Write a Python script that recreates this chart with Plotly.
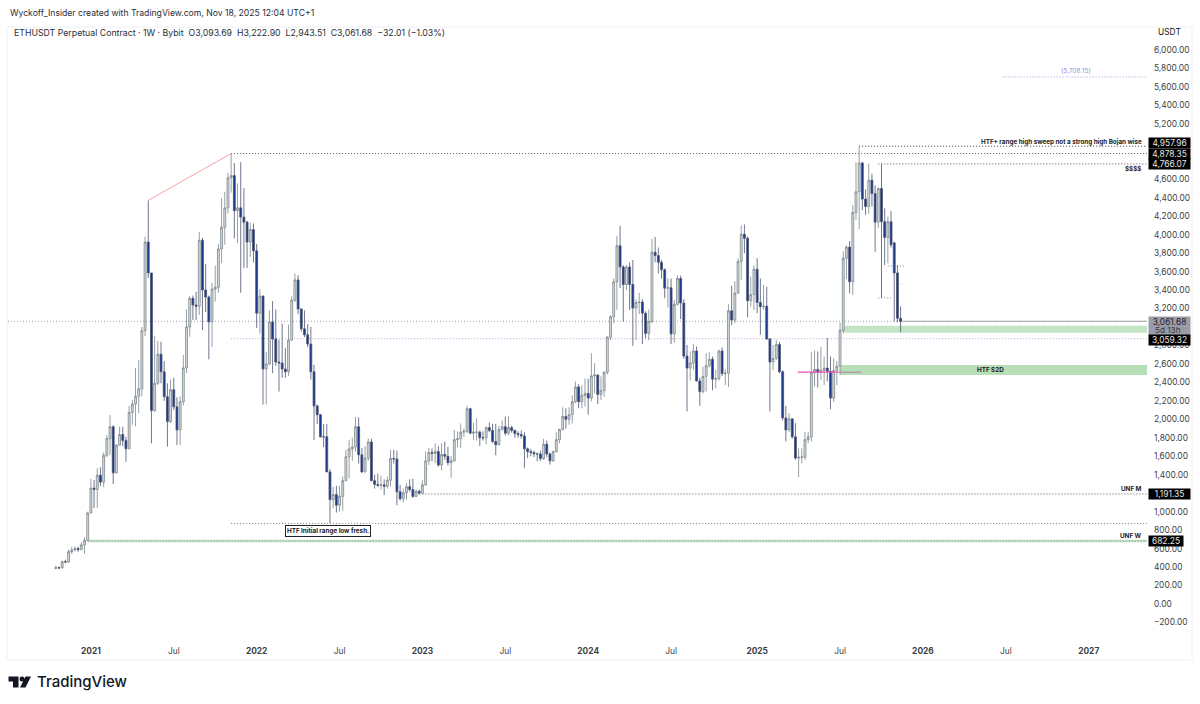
import pandas as pd
import plotly.graph_objects as go

# weekly candles
opens = [385, 393, 390, 458, 455, 566, 585, 600, 590, 640,
         690, 985, 1255, 1240, 1395, 1320, 1610, 1790, 1920, 1420,
         1720, 1835, 1770, 1680, 2075, 2165, 2250, 2330, 2960, 3920,
         3585, 2095, 2390, 2705, 2515, 2245, 1975, 2320, 2135, 1885,
         2190, 2556, 3000, 3310, 3238, 3225, 3940, 3400, 3325, 3055,
         3410, 3430, 3845, 4080, 4290, 4615, 4640, 4260, 4290, 4190,
         4135, 3920, 4055, 3825, 3150, 3335, 2545, 2600, 3055, 2870,
         2620, 2610, 2545, 2515, 2860, 3290, 3510, 3195, 2980, 2915,
         2815, 2515, 2145, 2050, 1810, 1810, 1430, 1130, 1185, 1070,
         1165, 1335, 1595, 1680, 1700, 1920, 1615, 1430, 1580, 1755,
         1335, 1295, 1285, 1290, 1275, 1340, 1575, 1570, 1215, 1140,
         1205, 1270, 1240, 1165, 1220, 1200, 1290, 1550, 1640, 1630,
         1650, 1505, 1620, 1600, 1530, 1550, 1780, 1790, 1860, 1870,
         2115, 1850, 1860, 1860, 1800, 1800, 1910, 1880, 1760, 1725,
         1890, 1920, 1850, 1910, 1880, 1845, 1835, 1820, 1680, 1650,
         1640, 1625, 1625, 1575, 1730, 1625, 1550, 1650, 1780, 1890,
         2030, 2000, 2050, 2190, 2350, 2190, 2260, 2280, 2230, 2470,
         2480, 2270, 2310, 2510, 2890, 3110, 3490, 3880, 3650, 3460,
         3650, 3460, 3205, 3265, 3270, 3150, 2930, 3060, 3810, 3775,
         3700, 3620, 3420, 3425, 2925, 3245, 3525, 3260, 2685, 2555,
         2610, 2740, 2415, 2300, 2465, 2580, 2650, 2435, 2440, 2740,
         2495, 2500, 3175, 3075, 3365, 3710, 4005, 3960, 3285, 3350,
         3625, 3265, 3220, 3225, 2870, 2620, 2660, 2810, 2515, 2015,
         1885, 2005, 1810, 1580, 1590, 1590, 1780, 1810, 2505, 2540,
         2510, 2530, 2555, 2520, 2230, 2530, 2575, 2965, 3745, 3865,
         3490, 4240, 4465, 4775, 4385, 4305, 4590, 4445, 4135, 4500,
         4140, 3970, 4140, 3910, 3585, 3093.69]
highs = [415, 405, 470, 480, 590, 620, 625, 620, 670, 720,
         1000, 1355, 1343, 1470, 1480, 1640, 1830, 2047, 1935, 1730,
         1920, 1920, 1810, 2145, 2210, 2556, 2640, 3000, 3978, 4372,
         3585, 2905, 2850, 2840, 2630, 2390, 2430, 2450, 2240, 2250,
         2697, 3190, 3335, 3340, 3380, 4030, 3965, 3680, 3340, 3480,
         3665, 3900, 4395, 4465, 4670, 4878, 4775, 4555, 4785, 4505,
         4150, 4130, 4120, 3900, 3410, 3340, 2730, 3180, 3280, 3190,
         2860, 3035, 2770, 3025, 3330, 3580, 3560, 3200, 3180, 3030,
         3000, 2590, 2160, 2060, 1950, 1950, 1460, 1267, 1280, 1280,
         1380, 1670, 1775, 1800, 2025, 2020, 1690, 1710, 1790, 1790,
         1400, 1410, 1390, 1350, 1380, 1670, 1670, 1660, 1290, 1250,
         1310, 1350, 1355, 1240, 1240, 1340, 1650, 1690, 1685, 1740,
         1710, 1740, 1760, 1700, 1600, 1885, 1870, 1955, 1900, 2145,
         2125, 1960, 2010, 1880, 1870, 1925, 1965, 1950, 1950, 1930,
         1985, 2030, 2030, 1930, 1890, 1870, 1880, 1860, 1695, 1680,
         1660, 1640, 1660, 1790, 1770, 1640, 1660, 1860, 1900, 2130,
         2120, 2130, 2260, 2410, 2380, 2370, 2440, 2440, 2715, 2607,
         2485, 2465, 2520, 2900, 3130, 3525, 3985, 4095, 3670, 3670,
         3700, 3725, 3300, 3370, 3300, 3170, 3190, 3955, 3975, 3860,
         3725, 3635, 3525, 3525, 3290, 3560, 3555, 3300, 2805, 2730,
         2815, 2790, 2450, 2570, 2715, 2725, 2680, 2535, 2755, 2780,
         2540, 3245, 3445, 3495, 3745, 4100, 4110, 3980, 3545, 3670,
         3745, 3525, 3455, 3435, 2880, 2805, 2860, 2840, 2530, 2145,
         2065, 2010, 1957, 1685, 1685, 1865, 1865, 2730, 2745, 2735,
         2785, 2680, 2880, 2680, 2660, 2630, 3045, 3820, 3885, 3930,
         4320, 4785, 4957.96, 4790, 4490, 4770, 4660, 4535, 4510, 4766.07,
         4285, 4195, 4255, 3925, 3670, 3222.90]
lows = [375, 380, 385, 440, 445, 540, 570, 565, 580, 545,
        680, 985, 1040, 1040, 1280, 1265, 1590, 1610, 1300, 1415,
        1720, 1710, 1540, 1680, 1940, 1925, 2065, 2250, 2900, 3530,
        1740, 2080, 2370, 2390, 2200, 1705, 1960, 2100, 1720, 1720,
        2150, 2500, 2895, 3075, 3075, 3130, 2965, 3160, 2650, 2785,
        3275, 3370, 3690, 3890, 4230, 4455, 3960, 3910, 3370, 3640,
        3640, 3760, 3700, 2990, 2930, 2160, 2160, 2590, 2500, 2580,
        2300, 2450, 2450, 2470, 2850, 3270, 3140, 2950, 2890, 2780,
        2430, 1776, 1950, 1800, 1700, 1430, 877, 1040, 990, 1000,
        1010, 1330, 1360, 1550, 1650, 1520, 1420, 1430, 1550, 1330,
        1250, 1265, 1240, 1180, 1250, 1270, 1520, 1070, 1120, 1100,
        1130, 1215, 1150, 1170, 1180, 1190, 1280, 1505, 1545, 1525,
        1487, 1450, 1560, 1500, 1365, 1540, 1700, 1690, 1810, 1850,
        1840, 1775, 1770, 1710, 1770, 1730, 1860, 1740, 1610, 1720,
        1880, 1825, 1830, 1855, 1800, 1800, 1790, 1470, 1580, 1600,
        1590, 1545, 1550, 1560, 1590, 1510, 1540, 1640, 1740, 1880,
        1900, 1940, 1955, 2175, 2120, 2120, 2140, 2050, 2195, 2281,
        2165, 2210, 2245, 2485, 2860, 3040, 3185, 3420, 3060, 3400,
        3185, 2795, 2860, 3140, 2815, 2880, 2855, 3040, 3700, 3580,
        3525, 3310, 3210, 2815, 2830, 3235, 3085, 2655, 2085, 2420,
        2535, 2410, 2145, 2280, 2300, 2560, 2315, 2335, 2420, 2470,
        2370, 2350, 3020, 3040, 3365, 3510, 3800, 3105, 3220, 3185,
        3150, 2915, 3185, 2860, 2085, 2535, 2640, 2500, 1990, 1760,
        1865, 1790, 1560, 1375, 1525, 1560, 1740, 1760, 2355, 2345,
        2425, 2370, 2410, 2110, 2190, 2370, 2480, 2930, 3520, 3365,
        3345, 4160, 4060, 4265, 4215, 4230, 4305, 3815, 4070, 3315,
        3670, 3690, 3860, 3060, 3050, 2943.51]
closes = [393, 390, 458, 455, 566, 585, 600, 590, 640, 690,
          985, 1255, 1240, 1395, 1320, 1610, 1790, 1920, 1420, 1720,
          1835, 1770, 1680, 2075, 2165, 2250, 2330, 2960, 3920, 3585,
          2095, 2390, 2705, 2515, 2245, 1975, 2320, 2135, 1885, 2190,
          2556, 3000, 3310, 3238, 3225, 3940, 3400, 3325, 3055, 3410,
          3430, 3845, 4080, 4290, 4615, 4640, 4260, 4290, 4190, 4135,
          3920, 4055, 3825, 3150, 3335, 2545, 2600, 3055, 2870, 2620,
          2610, 2545, 2515, 2860, 3290, 3510, 3195, 2980, 2915, 2815,
          2515, 2145, 2050, 1810, 1810, 1430, 1130, 1185, 1070, 1165,
          1335, 1595, 1680, 1700, 1920, 1615, 1430, 1580, 1755, 1335,
          1295, 1285, 1290, 1275, 1340, 1575, 1570, 1215, 1140, 1205,
          1270, 1240, 1165, 1220, 1200, 1290, 1550, 1640, 1630, 1650,
          1505, 1620, 1600, 1530, 1550, 1780, 1790, 1860, 1870, 2115,
          1850, 1860, 1860, 1800, 1800, 1910, 1880, 1760, 1725, 1890,
          1920, 1850, 1910, 1880, 1845, 1835, 1820, 1680, 1650, 1640,
          1625, 1625, 1575, 1730, 1625, 1550, 1650, 1780, 1890, 2030,
          2000, 2050, 2190, 2350, 2190, 2260, 2280, 2230, 2470, 2480,
          2270, 2310, 2510, 2890, 3110, 3490, 3880, 3650, 3460, 3650,
          3460, 3205, 3265, 3270, 3150, 2930, 3060, 3810, 3775, 3700,
          3620, 3420, 3425, 2925, 3245, 3525, 3260, 2685, 2555, 2610,
          2740, 2415, 2300, 2465, 2580, 2650, 2435, 2440, 2740, 2495,
          2500, 3175, 3075, 3365, 3710, 4005, 3960, 3285, 3350, 3625,
          3265, 3220, 3225, 2870, 2620, 2660, 2810, 2515, 2015, 1885,
          2005, 1810, 1580, 1590, 1590, 1780, 1810, 2505, 2540, 2510,
          2530, 2555, 2520, 2230, 2530, 2575, 2965, 3745, 3865, 3490,
          4240, 4465, 4775, 4385, 4305, 4590, 4445, 4135, 4500, 4140,
          3970, 4140, 3890, 3585, 3093.69, 3061.68]
weeks = pd.date_range("2020-10-19", periods=len(closes), freq="W-MON")

# the ticks that sit fully under the price boxes are not shown
price_ticks = [-200, 0, 200, 400, 600, 800, 1000, 1400, 1600, 1800, 2000, 2200, 2400, 2600, 2800,
               3200, 3400, 3600, 3800, 4000, 4200, 4400, 4600, 5200, 5400, 5600, 5800, 6000]
time_ticks = ["2021-01-04", "2021-07-05", "2022-01-03", "2022-07-04", "2023-01-02",
              "2023-07-03", "2024-01-01", "2024-07-01", "2025-01-06", "2025-07-07",
              "2026-01-05", "2026-07-06", "2027-01-04"]
time_labels = ["<b>2021</b>", "Jul", "<b>2022</b>", "Jul", "<b>2023</b>", "Jul", "<b>2024</b>",
               "Jul", "<b>2025</b>", "Jul", "<b>2026</b>", "Jul", "<b>2027</b>"]
x_range = ["2020-07-06", "2027-05-12"]
y_range = [-347, 6249]

PLOT_L, PLOT_R, PLOT_T, PLOT_B = 8, 1147, 27, 636
FONT = "Inter"
TICK_COLOR = "#3c3f47"


# page pixels to paper coordinates, for things that are not data
def px(x):
    return (x - PLOT_L) / (PLOT_R - PLOT_L)


def py(y):
    return (PLOT_B - y) / (PLOT_B - PLOT_T)


def hline(price, start, end=x_range[1], color="#555555", width=1, dash="1px,2px"):
    return dict(type="line", xref="x", yref="y", x0=start, x1=end, y0=price, y1=price,
                layer="below", line=dict(color=color, width=width, dash=dash))


def band(top, bottom, start, color):
    return dict(type="rect", xref="x", yref="y", x0=start, x1=x_range[1], y0=bottom, y1=top,
                layer="below", fillcolor=color, line=dict(width=0))


def note(text, x, y, size=6.3, anchor="right", color="#1b1b1f", **kw):
    return dict(text=text, xref="paper", yref="paper", x=px(x), y=py(y), xanchor=anchor, yanchor="middle",
                showarrow=False, font=dict(family=FONT, size=size, color=color), **kw)


def price_label(text, price, right=1189, height=10, bg="#000000", color="#e6e6e6", yshift=0, valign="middle"):
    return dict(text=text, xref="paper", yref="y", x=px(1148), y=price, xanchor="left", yanchor="middle",
                showarrow=False, width=right - 1148, height=height, align="center", valign=valign,
                bgcolor=bg, borderpad=0, yshift=yshift,
                font=dict(family=FONT, size=8.4, color=color))


fig = go.Figure(go.Candlestick(
    x=weeks, open=opens, high=highs, low=lows, close=closes,
    increasing=dict(fillcolor="#d3dde0", line=dict(color="#7d878c", width=0.8)),
    decreasing=dict(fillcolor="#123592", line=dict(color="#4a5370", width=0.8)),
    whiskerwidth=0, hoverinfo="skip",
))

shapes = [
    # pane frame
    dict(type="rect", xref="paper", yref="paper", x0=px(7), x1=px(1192), y0=py(660), y1=py(27),
         layer="below", line=dict(color="#eff0f2", width=1)),
    band(3014, 2938, "2025-07-14", "#c3e5c5"),
    band(2588, 2480, "2025-07-07", "#b6dfb7"),
    dict(type="line", xref="x", yref="y", x0="2021-05-10", x1="2021-11-08", y0=4372, y1=4878,
         line=dict(color="#f7a3ab", width=1)),
    hline(4878.35, "2021-11-08"),
    hline(4957.96, "2025-08-18", color="#333333"),
    hline(4766.07, "2025-09-29"),
    hline(3061.68, x_range[0], color="#a3a3ad"),
    hline(3061.68, "2025-11-17", color="#333333"),
    hline(2873, "2021-11-08", color="#c7b6ec", width=1.2),
    hline(5708.15, "2026-06-29", color="#a898dc"),
    hline(1191.35, "2023-01-02", color="#555555"),
    hline(873, "2021-11-08", color="#777777"),
    hline(682.25, "2020-12-28", color="#c4e4c6", width=2.5, dash="solid"),
    hline(682.25, "2020-12-28", color="#7d8a7d"),
    hline(3660, "2025-10-20", "2025-11-24", color="#888888"),
    hline(3315, "2025-09-29", "2025-10-27", color="#888888"),
    hline(3470, "2025-11-10", "2025-11-24", color="#d4c8f0"),
    dict(type="line", xref="x", yref="y", x0="2025-04-05", x1="2025-07-04", y0=2510, y1=2510,
         line=dict(color="#f050b4", width=1.2)),
    dict(type="line", xref="x", yref="y", x0="2025-07-04", x1="2025-08-22", y0=2510, y1=2510,
         line=dict(color="#b28ca4", width=1.2)),
    # TradingView mark
    dict(type="path", xref="paper", yref="paper", fillcolor="#131722", line=dict(width=0),
         path=f"M {px(8.5)} {py(676.5)} L {px(18.5)} {py(676.5)} L {px(18.5)} {py(687.5)} L {px(13)} {py(687.5)} "
              f"L {px(13)} {py(681.5)} L {px(8.5)} {py(681.5)} Z"),
    dict(type="circle", xref="paper", yref="paper", fillcolor="#131722", line=dict(width=0),
         x0=px(19.5), x1=px(24.5), y0=py(681.5), y1=py(676.5)),
    dict(type="path", xref="paper", yref="paper", fillcolor="#131722", line=dict(width=0),
         path=f"M {px(25.5)} {py(676.5)} L {px(31)} {py(676.5)} L {px(25.5)} {py(687.5)} L {px(20)} {py(687.5)} Z"),
]

annotations = [
    note("Wyckoff_Insider created with TradingView.com, Nov 18, 2025 12:04 UTC+1", 8, 13, 8.65, "left", "#2a2e39"),
    note("ETHUSDT Perpetual Contract · 1W · Bybit  O3,093.69  H3,222.90  L2,943.51  C3,061.68  −32.01 (−1.03%)",
         12, 33, 8.76, "left", "#2a2e39"),
    note("USDT", 1169, 32, 8.4, "center", "#131722"),
    note("<b>HTF+ range high sweep not a strong high Bojan wise</b>", 1144, 142),
    note("<b>$$$$</b>", 1144, 169),
    note("<b>HTF S2D</b>", 990, 370, anchor="center"),
    note("<b>UNF M</b>", 1144, 489),
    note("<b>UNF W</b>", 1144, 536),
    note("(5,708.15)", 1076, 71, 6.5, "center", "#9d90d6"),
    note("<b>HTF Initial range low fresh.</b>", 328, 531, 6.3, "center", bgcolor="#ffffff",
         bordercolor="#222222", borderwidth=1, borderpad=1),
    note("TradingView", 35, 681, 15, "left", "#131722"),
    price_label("4,957.96", 4957.96, yshift=3),
    price_label("4,878.35", 4878.35),
    price_label("4,766.07", 4766.07),
    price_label("3,061.68", 3061.68, height=18, bg="#9b9ca9", color="#1f2128", yshift=-4.7, valign="top"),
    note("5d 13h", 1153, 329.5, 8.2, "left", "#33353d"),
    price_label("3,059.32", 2873, yshift=-1),
    price_label("1,191.35", 1191.35),
    price_label("682.25", 682.25, right=1182),
]
annotations[10]["font"]["weight"] = 500

fig.update_layout(
    width=1200, height=704, paper_bgcolor="#ffffff", plot_bgcolor="#ffffff", showlegend=False,
    margin=dict(l=PLOT_L, r=1200 - PLOT_R, t=PLOT_T, b=704 - PLOT_B),
    shapes=shapes, annotations=annotations, hovermode=False, boxgap=0.15,
    xaxis=dict(type="date", range=x_range, rangeslider=dict(visible=False), showgrid=False, zeroline=False,
               showline=False, ticks="", tickmode="array", tickvals=time_ticks, ticktext=time_labels,
               tickangle=0, ticklabelstandoff=9, tickfont=dict(family=FONT, size=8.4, color=TICK_COLOR)),
    yaxis=dict(side="right", range=y_range, showgrid=False, zeroline=False, showline=False, ticks="",
               tickmode="array", tickvals=price_ticks, tickformat=",.2f", ticklabelstandoff=6,
               tickfont=dict(family=FONT, size=8.4, color=TICK_COLOR)),
)

fig.write_html("out.html", config=dict(displayModeBar=False),
               post_script="document.body.style.margin='0';document.body.style.overflow='hidden';")
